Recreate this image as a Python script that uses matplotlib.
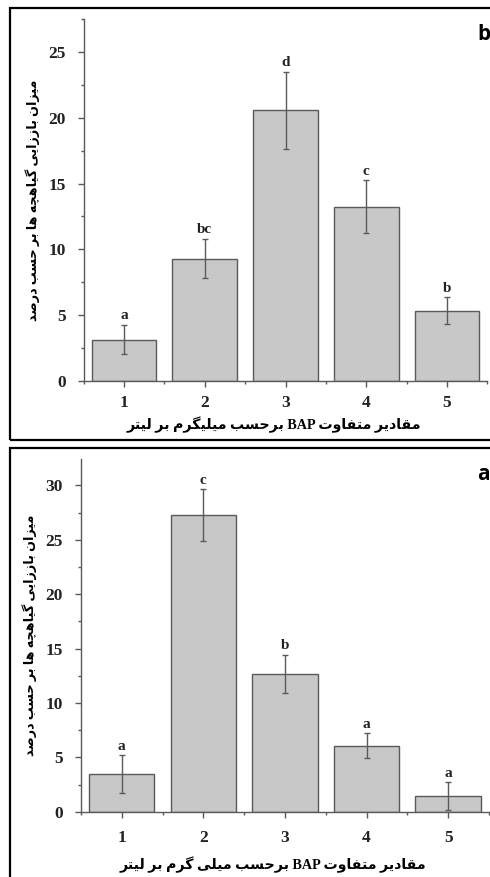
import matplotlib
matplotlib.use('Agg')
import matplotlib.pyplot as plt
from matplotlib.patches import Rectangle
from matplotlib.ticker import MultipleLocator

# data
doses = [1, 2, 3, 4, 5]

b_means = [3.15, 9.3, 20.55, 13.25, 5.35]
b_errs = [1.1, 1.5, 2.95, 2.0, 1.0]
b_letters = ['a', 'bc', 'd', 'c', 'b']

a_means = [3.45, 27.25, 12.7, 6.05, 1.45]
a_errs = [1.75, 2.4, 1.75, 1.15, 1.3]
a_letters = ['a', 'c', 'b', 'a', 'a']

y_label = 'میزان باززایی گیاهچه ها بر حسب درصد'
x_label_b = 'مقادیر متفاوت BAP برحسب میلیگرم بر لیتر'
x_label_a = 'مقادیر متفاوت BAP برحسب میلی گرم بر لیتر'

# arabic presentation forms: isolated, final, initial, medial
FORMS = {
    'ا': ('\uFE8D', '\uFE8E', None, None),
    'ب': ('\uFE8F', '\uFE90', '\uFE91', '\uFE92'),
    'ت': ('\uFE95', '\uFE96', '\uFE97', '\uFE98'),
    'ح': ('\uFEA1', '\uFEA2', '\uFEA3', '\uFEA4'),
    'د': ('\uFEA9', '\uFEAA', None, None),
    'ر': ('\uFEAD', '\uFEAE', None, None),
    'ز': ('\uFEAF', '\uFEB0', None, None),
    'س': ('\uFEB1', '\uFEB2', '\uFEB3', '\uFEB4'),
    'ص': ('\uFEB9', '\uFEBA', '\uFEBB', '\uFEBC'),
    'ف': ('\uFED1', '\uFED2', '\uFED3', '\uFED4'),
    'ق': ('\uFED5', '\uFED6', '\uFED7', '\uFED8'),
    'ل': ('\uFEDD', '\uFEDE', '\uFEDF', '\uFEE0'),
    'م': ('\uFEE1', '\uFEE2', '\uFEE3', '\uFEE4'),
    'ن': ('\uFEE5', '\uFEE6', '\uFEE7', '\uFEE8'),
    'ه': ('\uFEE9', '\uFEEA', '\uFEEB', '\uFEEC'),
    'و': ('\uFEED', '\uFEEE', None, None),
    '\u06cc': ('\uFBFC', '\uFBFD', '\uFBFE', '\uFBFF'),
    '\u064a': ('\uFBFC', '\uFBFD', '\uFBFE', '\uFBFF'),
    'گ': ('\uFB92', '\uFB93', '\uFB94', '\uFB95'),
    'چ': ('\uFB7A', '\uFB7B', '\uFB7C', '\uFB7D'),
}


def shape_word(word):
    out = []
    for i, ch in enumerate(word):
        if ch not in FORMS:
            out.append(ch)
            continue
        prev = word[i - 1] if i > 0 else None
        nxt = word[i + 1] if i < len(word) - 1 else None
        joins_prev = prev in FORMS and FORMS[prev][2] is not None
        joins_next = FORMS[ch][2] is not None and nxt in FORMS
        iso, fin, ini, med = FORMS[ch]
        if joins_prev and joins_next:
            out.append(med)
        elif joins_prev:
            out.append(fin)
        elif joins_next:
            out.append(ini)
        else:
            out.append(iso)
    return ''.join(out)


def rtl(text):
    # words in visual order for a right-to-left line
    words = []
    for w in text.split(' '):
        if any(c in FORMS for c in w):
            words.append(shape_word(w)[::-1])
        else:
            words.append(w)
    return ' '.join(words[::-1])


serif = ['Liberation Serif', 'DejaVu Sans']
bar_color = '#c8c8c8'
edge_color = '#5a5a5a'

fig = plt.figure(figsize=(4.9, 8.77), dpi=100)

# frames round the two panels
fig.add_artist(Rectangle((10 / 490, 1 - 440 / 877), 1.0, 432 / 877, transform=fig.transFigure,
                         fill=False, edgecolor='black', linewidth=1.6))
fig.add_artist(Rectangle((10 / 490, -0.05), 1.0, 1 - 448 / 877 + 0.05, transform=fig.transFigure,
                         fill=False, edgecolor='black', linewidth=1.6))

panels = [
    ([83.6 / 490, 1 - 381 / 877, 403.8 / 490, 362 / 877], b_means, b_errs, b_letters, 27.5, x_label_b, 'b', 35, 6, -0.097),
    ([80.9 / 490, 1 - 811.7 / 877, 408 / 490, 352.4 / 877], a_means, a_errs, a_letters, 32.4, x_label_a, 'a', 475, 9, -0.128),
]

for rect, means, errs, letters, ytop, xlab, tag, tag_y, xpad, xlab_y in panels:
    ax = fig.add_axes(rect)
    ax.bar(doses, means, width=0.8, color=bar_color, edgecolor=edge_color, linewidth=1.0, zorder=2)
    ax.errorbar(doses, means, yerr=errs, fmt='none', ecolor=edge_color, elinewidth=1.0,
                capsize=2.5, capthick=1.0, zorder=3)
    for x, m, e, l in zip(doses, means, errs, letters):
        ax.text(x, m + e + 0.2, l, ha='center', va='bottom', fontsize=11, fontweight='bold',
                family=serif, color='#222222')
    ax.set_xlim(0.5, 5.5)
    ax.set_ylim(0, ytop)
    ax.yaxis.set_major_locator(MultipleLocator(5))
    ax.yaxis.set_minor_locator(MultipleLocator(2.5))
    ax.set_xticks(doses)
    ax.xaxis.set_minor_locator(MultipleLocator(0.5))
    for s in ['top', 'right']:
        ax.spines[s].set_visible(False)
    for s in ['left', 'bottom']:
        ax.spines[s].set_color(edge_color)
        ax.spines[s].set_linewidth(1.0)
    ax.tick_params(which='major', length=4, width=1.0, color=edge_color, direction='out')
    ax.tick_params(which='minor', length=2.5, width=1.0, color=edge_color, direction='out')
    ax.tick_params(axis='y', pad=9)
    ax.tick_params(axis='x', pad=xpad)
    for lab in ax.get_xticklabels() + ax.get_yticklabels():
        lab.set_fontfamily(serif)
        lab.set_fontweight('bold')
        lab.set_fontsize(12.5)
        lab.set_color('#222222')
    ax.set_xlabel(rtl(xlab), family=serif, fontweight='bold', fontsize=10.2)
    ax.xaxis.set_label_coords(0.47, xlab_y)
    ax.set_ylabel(rtl(y_label), family=serif, fontweight='bold', fontsize=9.2, labelpad=6)
    fig.text(477 / 490, 1 - tag_y / 877, tag, ha='left', va='center', fontsize=15,
             fontweight='bold', family=['Open Sans', 'DejaVu Sans'])

fig.savefig('out.png', dpi=100)
